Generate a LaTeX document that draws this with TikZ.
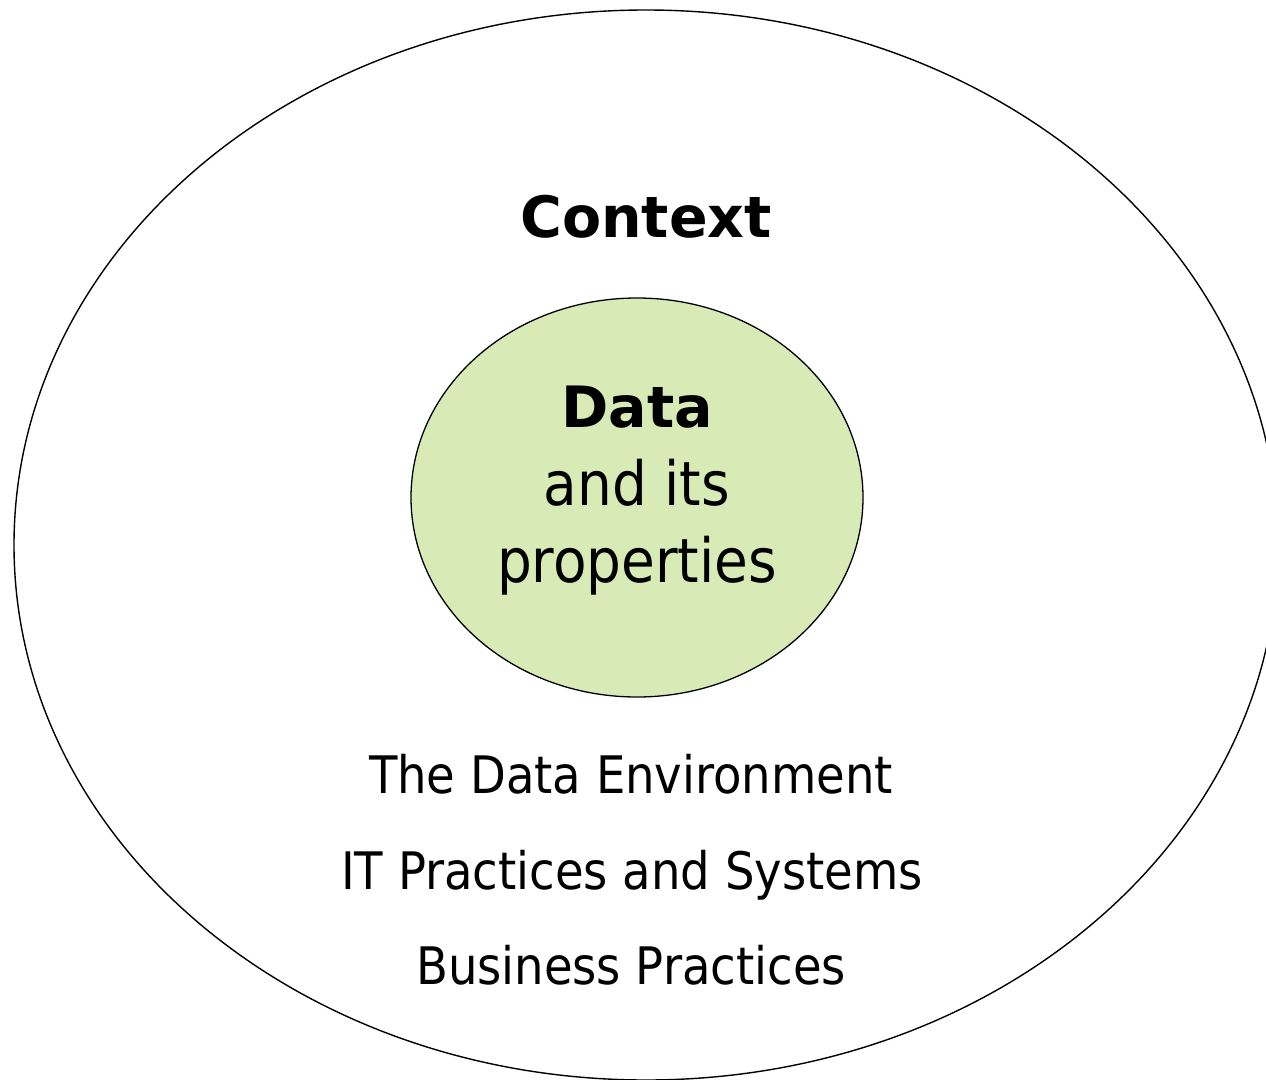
\documentclass[tikz,border=0pt]{standalone}
\usepackage{fontspec}
\setmainfont{DejaVu Sans Condensed}
\newfontfamily\widefont{DejaVu Sans}
\usetikzlibrary{shapes.geometric}
\definecolor{datagreen}{HTML}{D8EAB5}
\tikzset{
  ring/.style={ellipse, draw=black, inner sep=0pt},
  boldlabel/.style={anchor=base, inner sep=0pt, font=\widefont\bfseries\fontsize{57}{62}\selectfont},
  innerlabel/.style={anchor=base, inner sep=0pt, font=\fontsize{61}{70}\selectfont},
  listlabel/.style={anchor=base, inner sep=0pt, font=\fontsize{51.7}{60}\selectfont}
}
\begin{document}
\begin{tikzpicture}[x=1pt, y=-1pt]
\useasboundingbox (0,0) rectangle (1266,1079);
\begin{scope}
\clip (0,0) rectangle (1266,1079);
\node[ring, line width=1.4pt, minimum width=1264pt, minimum height=1070pt] (context) at (646,545) {};
\end{scope}
\node[ring, line width=1.3pt, fill=datagreen, minimum width=452pt, minimum height=399pt] (data) at (637,497.5) {};
\node[boldlabel] (ctxlabel) at (646,237) {Context};
\node[boldlabel] (datalabel) at (637,427) {Data};
\node[innerlabel] (andits) at (637,505) {and its};
\node[innerlabel] (props) at (637,582) {properties};
\node[listlabel] (env) at (631,793) {The Data Environment};
\node[listlabel] (itps) at (632,889) {IT Practices and Systems};
\node[listlabel] (biz) at (631,984) {Business Practices};
\end{tikzpicture}
\end{document}
